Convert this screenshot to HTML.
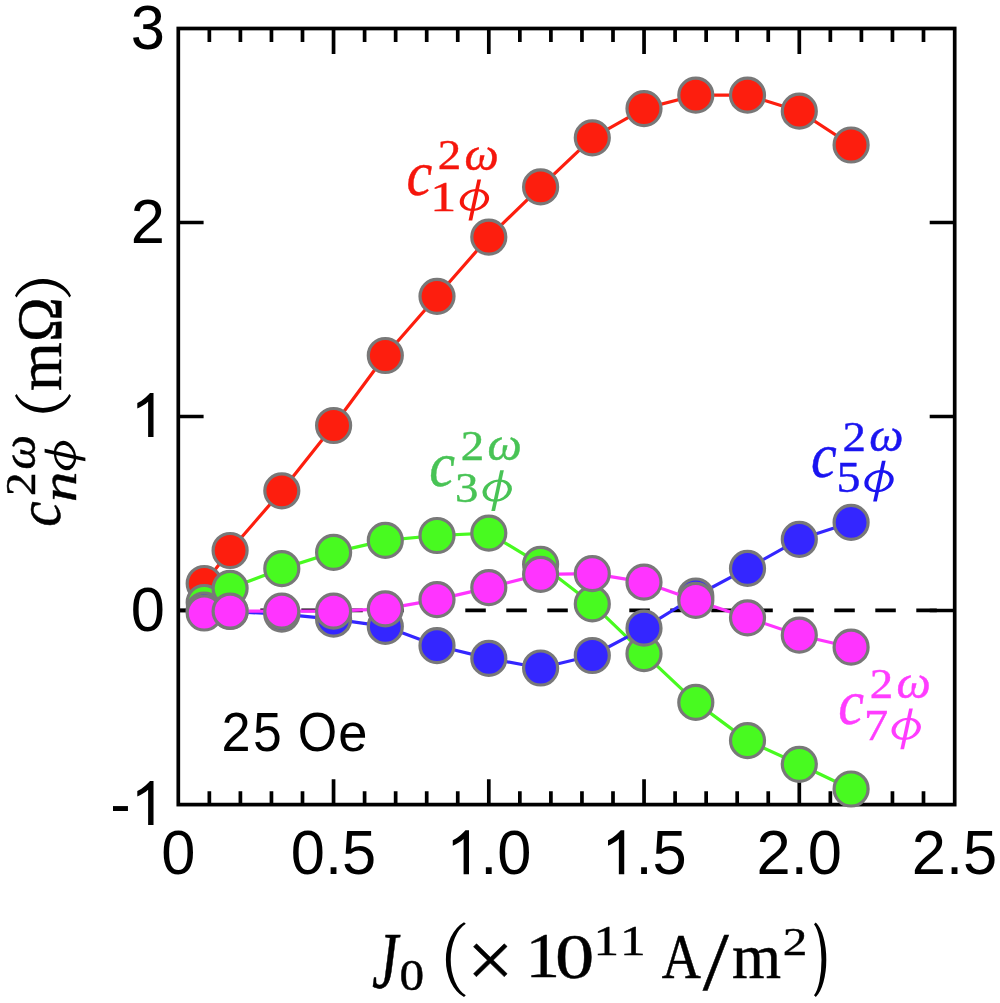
<!DOCTYPE html>
<html><head><meta charset="utf-8"><style>
html,body{margin:0;padding:0;background:#fff;overflow:hidden;}
svg{display:block;will-change:transform;}
</style></head><body>
<svg width="1000" height="1003" viewBox="0 0 1000 1003">
<rect width="1000" height="1003" fill="#fff"/>
<path d="M209.35 804.6V791.2M209.35 28.5V41.9M240.40 804.6V791.2M240.40 28.5V41.9M271.45 804.6V791.2M271.45 28.5V41.9M302.50 804.6V791.2M302.50 28.5V41.9M333.55 804.6V779.2M333.55 28.5V53.9M364.60 804.6V791.2M364.60 28.5V41.9M395.65 804.6V791.2M395.65 28.5V41.9M426.70 804.6V791.2M426.70 28.5V41.9M457.75 804.6V791.2M457.75 28.5V41.9M488.80 804.6V779.2M488.80 28.5V53.9M519.85 804.6V791.2M519.85 28.5V41.9M550.90 804.6V791.2M550.90 28.5V41.9M581.95 804.6V791.2M581.95 28.5V41.9M613.00 804.6V791.2M613.00 28.5V41.9M644.05 804.6V779.2M644.05 28.5V53.9M675.10 804.6V791.2M675.10 28.5V41.9M706.15 804.6V791.2M706.15 28.5V41.9M737.20 804.6V791.2M737.20 28.5V41.9M768.25 804.6V791.2M768.25 28.5V41.9M799.30 804.6V779.2M799.30 28.5V53.9M830.35 804.6V791.2M830.35 28.5V41.9M861.40 804.6V791.2M861.40 28.5V41.9M892.45 804.6V791.2M892.45 28.5V41.9M923.50 804.6V791.2M923.50 28.5V41.9M178.3 222.50H203.60000000000002M954.7 222.50H929.7M178.3 416.50H203.60000000000002M954.7 416.50H929.7M178.3 610.50H203.60000000000002M954.7 610.50H929.7" stroke="#000" stroke-width="3.7" fill="none"/>
<rect x="178.3" y="28.5" width="776.4000000000001" height="776.1" fill="none" stroke="#000" stroke-width="3.7"/>
<line x1="178.3" y1="610.4" x2="955" y2="610.4" stroke="#000" stroke-width="3.6" stroke-dasharray="20.5 20.5"/>
<polyline points="204.2,583.5 230.1,550.5 281.8,490.8 333.6,425.5 385.3,355.5 437.0,296.3 488.8,237.1 540.6,186.9 592.3,137.8 644.0,108.6 695.8,95.2 747.5,95.2 799.3,111.2 851.1,145.0" fill="none" stroke="#FD1E0E" stroke-width="3.2" stroke-linejoin="round"/>
<circle cx="204.2" cy="583.5" r="17.0" fill="#FD1E0E" stroke="#787878" stroke-width="3.2"/>
<circle cx="230.1" cy="550.5" r="17.0" fill="#FD1E0E" stroke="#787878" stroke-width="3.2"/>
<circle cx="281.8" cy="490.8" r="17.0" fill="#FD1E0E" stroke="#787878" stroke-width="3.2"/>
<circle cx="333.6" cy="425.5" r="17.0" fill="#FD1E0E" stroke="#787878" stroke-width="3.2"/>
<circle cx="385.3" cy="355.5" r="17.0" fill="#FD1E0E" stroke="#787878" stroke-width="3.2"/>
<circle cx="437.0" cy="296.3" r="17.0" fill="#FD1E0E" stroke="#787878" stroke-width="3.2"/>
<circle cx="488.8" cy="237.1" r="17.0" fill="#FD1E0E" stroke="#787878" stroke-width="3.2"/>
<circle cx="540.6" cy="186.9" r="17.0" fill="#FD1E0E" stroke="#787878" stroke-width="3.2"/>
<circle cx="592.3" cy="137.8" r="17.0" fill="#FD1E0E" stroke="#787878" stroke-width="3.2"/>
<circle cx="644.0" cy="108.6" r="17.0" fill="#FD1E0E" stroke="#787878" stroke-width="3.2"/>
<circle cx="695.8" cy="95.2" r="17.0" fill="#FD1E0E" stroke="#787878" stroke-width="3.2"/>
<circle cx="747.5" cy="95.2" r="17.0" fill="#FD1E0E" stroke="#787878" stroke-width="3.2"/>
<circle cx="799.3" cy="111.2" r="17.0" fill="#FD1E0E" stroke="#787878" stroke-width="3.2"/>
<circle cx="851.1" cy="145.0" r="17.0" fill="#FD1E0E" stroke="#787878" stroke-width="3.2"/>
<polyline points="204.2,602.5 230.1,588.3 281.8,568.7 333.6,552.4 385.3,540.4 437.0,535.5 488.8,533.1 540.6,564.3 592.3,603.9 644.0,653.7 695.8,702.4 747.5,740.6 799.3,764.3 851.1,789.0" fill="none" stroke="#48FA20" stroke-width="3.2" stroke-linejoin="round"/>
<circle cx="204.2" cy="602.5" r="17.0" fill="#48FA20" stroke="#787878" stroke-width="3.2"/>
<circle cx="230.1" cy="588.3" r="17.0" fill="#48FA20" stroke="#787878" stroke-width="3.2"/>
<circle cx="281.8" cy="568.7" r="17.0" fill="#48FA20" stroke="#787878" stroke-width="3.2"/>
<circle cx="333.6" cy="552.4" r="17.0" fill="#48FA20" stroke="#787878" stroke-width="3.2"/>
<circle cx="385.3" cy="540.4" r="17.0" fill="#48FA20" stroke="#787878" stroke-width="3.2"/>
<circle cx="437.0" cy="535.5" r="17.0" fill="#48FA20" stroke="#787878" stroke-width="3.2"/>
<circle cx="488.8" cy="533.1" r="17.0" fill="#48FA20" stroke="#787878" stroke-width="3.2"/>
<circle cx="540.6" cy="564.3" r="17.0" fill="#48FA20" stroke="#787878" stroke-width="3.2"/>
<circle cx="592.3" cy="603.9" r="17.0" fill="#48FA20" stroke="#787878" stroke-width="3.2"/>
<circle cx="644.0" cy="653.7" r="17.0" fill="#48FA20" stroke="#787878" stroke-width="3.2"/>
<circle cx="695.8" cy="702.4" r="17.0" fill="#48FA20" stroke="#787878" stroke-width="3.2"/>
<circle cx="747.5" cy="740.6" r="17.0" fill="#48FA20" stroke="#787878" stroke-width="3.2"/>
<circle cx="799.3" cy="764.3" r="17.0" fill="#48FA20" stroke="#787878" stroke-width="3.2"/>
<circle cx="851.1" cy="789.0" r="17.0" fill="#48FA20" stroke="#787878" stroke-width="3.2"/>
<polyline points="204.2,610.0 230.1,611.5 281.8,614.1 333.6,619.2 385.3,626.4 437.0,645.7 488.8,658.4 540.6,668.0 592.3,655.5 644.0,628.2 695.8,596.0 747.5,568.4 799.3,539.3 851.1,522.4" fill="none" stroke="#3426FF" stroke-width="3.2" stroke-linejoin="round"/>
<circle cx="204.2" cy="610.0" r="17.0" fill="#3426FF" stroke="#787878" stroke-width="3.2"/>
<circle cx="230.1" cy="611.5" r="17.0" fill="#3426FF" stroke="#787878" stroke-width="3.2"/>
<circle cx="281.8" cy="614.1" r="17.0" fill="#3426FF" stroke="#787878" stroke-width="3.2"/>
<circle cx="333.6" cy="619.2" r="17.0" fill="#3426FF" stroke="#787878" stroke-width="3.2"/>
<circle cx="385.3" cy="626.4" r="17.0" fill="#3426FF" stroke="#787878" stroke-width="3.2"/>
<circle cx="437.0" cy="645.7" r="17.0" fill="#3426FF" stroke="#787878" stroke-width="3.2"/>
<circle cx="488.8" cy="658.4" r="17.0" fill="#3426FF" stroke="#787878" stroke-width="3.2"/>
<circle cx="540.6" cy="668.0" r="17.0" fill="#3426FF" stroke="#787878" stroke-width="3.2"/>
<circle cx="592.3" cy="655.5" r="17.0" fill="#3426FF" stroke="#787878" stroke-width="3.2"/>
<circle cx="644.0" cy="628.2" r="17.0" fill="#3426FF" stroke="#787878" stroke-width="3.2"/>
<circle cx="695.8" cy="596.0" r="17.0" fill="#3426FF" stroke="#787878" stroke-width="3.2"/>
<circle cx="747.5" cy="568.4" r="17.0" fill="#3426FF" stroke="#787878" stroke-width="3.2"/>
<circle cx="799.3" cy="539.3" r="17.0" fill="#3426FF" stroke="#787878" stroke-width="3.2"/>
<circle cx="851.1" cy="522.4" r="17.0" fill="#3426FF" stroke="#787878" stroke-width="3.2"/>
<polyline points="204.2,613.0 230.1,611.2 281.8,611.2 333.6,611.2 385.3,608.8 437.0,599.6 488.8,587.6 540.6,574.4 592.3,573.7 644.0,582.2 695.8,600.4 747.5,617.8 799.3,635.2 851.1,647.2" fill="none" stroke="#FF34FF" stroke-width="3.2" stroke-linejoin="round"/>
<circle cx="204.2" cy="613.0" r="17.0" fill="#FF34FF" stroke="#787878" stroke-width="3.2"/>
<circle cx="230.1" cy="611.2" r="17.0" fill="#FF34FF" stroke="#787878" stroke-width="3.2"/>
<circle cx="281.8" cy="611.2" r="17.0" fill="#FF34FF" stroke="#787878" stroke-width="3.2"/>
<circle cx="333.6" cy="611.2" r="17.0" fill="#FF34FF" stroke="#787878" stroke-width="3.2"/>
<circle cx="385.3" cy="608.8" r="17.0" fill="#FF34FF" stroke="#787878" stroke-width="3.2"/>
<circle cx="437.0" cy="599.6" r="17.0" fill="#FF34FF" stroke="#787878" stroke-width="3.2"/>
<circle cx="488.8" cy="587.6" r="17.0" fill="#FF34FF" stroke="#787878" stroke-width="3.2"/>
<circle cx="540.6" cy="574.4" r="17.0" fill="#FF34FF" stroke="#787878" stroke-width="3.2"/>
<circle cx="592.3" cy="573.7" r="17.0" fill="#FF34FF" stroke="#787878" stroke-width="3.2"/>
<circle cx="644.0" cy="582.2" r="17.0" fill="#FF34FF" stroke="#787878" stroke-width="3.2"/>
<circle cx="695.8" cy="600.4" r="17.0" fill="#FF34FF" stroke="#787878" stroke-width="3.2"/>
<circle cx="747.5" cy="617.8" r="17.0" fill="#FF34FF" stroke="#787878" stroke-width="3.2"/>
<circle cx="799.3" cy="635.2" r="17.0" fill="#FF34FF" stroke="#787878" stroke-width="3.2"/>
<circle cx="851.1" cy="647.2" r="17.0" fill="#FF34FF" stroke="#787878" stroke-width="3.2"/>
<text transform="translate(130.64,49.00) scale(0.975,1)" style="font-family:'Liberation Sans',sans-serif" font-size="63">3</text>
<text transform="translate(130.64,243.00) scale(0.975,1)" style="font-family:'Liberation Sans',sans-serif" font-size="63">2</text>
<path transform="translate(130.64,437.00) scale(0.02999,-0.03076)" d="M763 0L583 0L583 1147Q518 1085 412 1023Q306 961 222 930L222 1104Q373 1175 486 1276Q599 1377 646 1430L763 1430Z"/>
<text transform="translate(130.64,631.00) scale(0.975,1)" style="font-family:'Liberation Sans',sans-serif" font-size="63">0</text>
<text transform="translate(110.18,825.00) scale(0.975,1)" style="font-family:'Liberation Sans',sans-serif" font-size="63">-</text><path transform="translate(130.64,825.00) scale(0.02999,-0.03076)" d="M763 0L583 0L583 1147Q518 1085 412 1023Q306 961 222 930L222 1104Q373 1175 486 1276Q599 1377 646 1430L763 1430Z"/>
<text transform="translate(161.22,874.30) scale(0.975,1)" style="font-family:'Liberation Sans',sans-serif" font-size="63">0</text>
<text transform="translate(290.86,874.30) scale(0.975,1)" style="font-family:'Liberation Sans',sans-serif" font-size="63">0</text><text transform="translate(325.02,874.30) scale(0.975,1)" style="font-family:'Liberation Sans',sans-serif" font-size="63">.</text><text transform="translate(342.08,874.30) scale(0.975,1)" style="font-family:'Liberation Sans',sans-serif" font-size="63">5</text>
<path transform="translate(446.11,874.30) scale(0.02999,-0.03076)" d="M763 0L583 0L583 1147Q518 1085 412 1023Q306 961 222 930L222 1104Q373 1175 486 1276Q599 1377 646 1430L763 1430Z"/><text transform="translate(480.27,874.30) scale(0.975,1)" style="font-family:'Liberation Sans',sans-serif" font-size="63">.</text><text transform="translate(497.33,874.30) scale(0.975,1)" style="font-family:'Liberation Sans',sans-serif" font-size="63">0</text>
<path transform="translate(601.36,874.30) scale(0.02999,-0.03076)" d="M763 0L583 0L583 1147Q518 1085 412 1023Q306 961 222 930L222 1104Q373 1175 486 1276Q599 1377 646 1430L763 1430Z"/><text transform="translate(635.52,874.30) scale(0.975,1)" style="font-family:'Liberation Sans',sans-serif" font-size="63">.</text><text transform="translate(652.58,874.30) scale(0.975,1)" style="font-family:'Liberation Sans',sans-serif" font-size="63">5</text>
<text transform="translate(756.61,874.30) scale(0.975,1)" style="font-family:'Liberation Sans',sans-serif" font-size="63">2</text><text transform="translate(790.77,874.30) scale(0.975,1)" style="font-family:'Liberation Sans',sans-serif" font-size="63">.</text><text transform="translate(807.83,874.30) scale(0.975,1)" style="font-family:'Liberation Sans',sans-serif" font-size="63">0</text>
<text transform="translate(911.86,874.30) scale(0.975,1)" style="font-family:'Liberation Sans',sans-serif" font-size="63">2</text><text transform="translate(946.02,874.30) scale(0.975,1)" style="font-family:'Liberation Sans',sans-serif" font-size="63">.</text><text transform="translate(963.08,874.30) scale(0.975,1)" style="font-family:'Liberation Sans',sans-serif" font-size="63">5</text>
<text transform="translate(221.47,751.10) scale(0.5224,0.5628)" style="font-family:'Liberation Sans',sans-serif;font-style:normal" font-size="100" fill="#000">2</text>
<text transform="translate(253.03,750.85) scale(0.5167,0.5618)" style="font-family:'Liberation Sans',sans-serif;font-style:normal" font-size="100" fill="#000">5</text>
<text transform="translate(297.70,751.15) scale(0.5069,0.5636)" style="font-family:'Liberation Sans',sans-serif;font-style:normal" font-size="100" fill="#000">O</text>
<text transform="translate(338.17,751.17) scale(0.5243,0.5403)" style="font-family:'Liberation Sans',sans-serif;font-style:normal" font-size="100" fill="#000">e</text>
<text transform="translate(406.42,195.49) scale(0.5791,0.6258)" style="font-family:'Liberation Serif',serif;font-style:italic" font-size="100" fill="#F5160C" stroke="#F5160C" stroke-width="0.747">c</text><text transform="translate(437.84,169.40) scale(0.4690,0.4259)" style="font-family:'Liberation Serif',serif;font-style:normal" font-size="100" fill="#F5160C" stroke="#F5160C" stroke-width="1.006">2</text><text transform="translate(464.59,169.64) scale(0.4850,0.4681)" style="font-family:'Liberation Serif',serif;font-style:italic" font-size="100" fill="#F5160C" stroke="#F5160C" stroke-width="0.944">ω</text><text transform="translate(430.33,211.00) scale(0.5198,0.4317)" style="font-family:'Liberation Serif',serif;font-style:normal" font-size="100" fill="#F5160C" stroke="#F5160C" stroke-width="0.946">1</text><g transform="translate(474.40,200.00) rotate(0)" fill="#F5160C"><path fill-rule="evenodd" d="M-14.5 0a14.5 11.1 0 1 0 29 0a14.5 11.1 0 1 0 -29 0ZM-10.4 0a10.4 9.0 0 1 0 20.8 0a10.4 9.0 0 1 0 -20.8 0Z" transform="skewX(-12)"/><path d="M2.95 -20.4L6.65 -20.4L-2.15 20.4L-5.85 20.4Z"/></g>
<text transform="translate(429.22,486.09) scale(0.5791,0.6258)" style="font-family:'Liberation Serif',serif;font-style:italic" font-size="100" fill="#48C355" stroke="#48C355" stroke-width="0.747">c</text><text transform="translate(460.64,460.00) scale(0.4690,0.4259)" style="font-family:'Liberation Serif',serif;font-style:normal" font-size="100" fill="#48C355" stroke="#48C355" stroke-width="1.006">2</text><text transform="translate(487.39,460.24) scale(0.4850,0.4681)" style="font-family:'Liberation Serif',serif;font-style:italic" font-size="100" fill="#48C355" stroke="#48C355" stroke-width="0.944">ω</text><text transform="translate(455.06,501.68) scale(0.4672,0.4272)" style="font-family:'Liberation Serif',serif;font-style:normal" font-size="100" fill="#48C355" stroke="#48C355" stroke-width="1.006">3</text><g transform="translate(497.20,490.60) rotate(0)" fill="#48C355"><path fill-rule="evenodd" d="M-14.5 0a14.5 11.1 0 1 0 29 0a14.5 11.1 0 1 0 -29 0ZM-10.4 0a10.4 9.0 0 1 0 20.8 0a10.4 9.0 0 1 0 -20.8 0Z" transform="skewX(-12)"/><path d="M2.95 -20.4L6.65 -20.4L-2.15 20.4L-5.85 20.4Z"/></g>
<text transform="translate(811.02,476.69) scale(0.5791,0.6258)" style="font-family:'Liberation Serif',serif;font-style:italic" font-size="100" fill="#1A14F0" stroke="#1A14F0" stroke-width="0.747">c</text><text transform="translate(842.44,450.60) scale(0.4690,0.4259)" style="font-family:'Liberation Serif',serif;font-style:normal" font-size="100" fill="#1A14F0" stroke="#1A14F0" stroke-width="1.006">2</text><text transform="translate(869.19,450.84) scale(0.4850,0.4681)" style="font-family:'Liberation Serif',serif;font-style:italic" font-size="100" fill="#1A14F0" stroke="#1A14F0" stroke-width="0.944">ω</text><text transform="translate(836.52,491.66) scale(0.4791,0.4484)" style="font-family:'Liberation Serif',serif;font-style:normal" font-size="100" fill="#1A14F0" stroke="#1A14F0" stroke-width="0.970">5</text><g transform="translate(879.00,481.20) rotate(0)" fill="#1A14F0"><path fill-rule="evenodd" d="M-14.5 0a14.5 11.1 0 1 0 29 0a14.5 11.1 0 1 0 -29 0ZM-10.4 0a10.4 9.0 0 1 0 20.8 0a10.4 9.0 0 1 0 -20.8 0Z" transform="skewX(-12)"/><path d="M2.95 -20.4L6.65 -20.4L-2.15 20.4L-5.85 20.4Z"/></g>
<text transform="translate(838.22,724.29) scale(0.5791,0.6258)" style="font-family:'Liberation Serif',serif;font-style:italic" font-size="100" fill="#FF3CFF" stroke="#FF3CFF" stroke-width="0.747">c</text><text transform="translate(869.64,698.20) scale(0.4690,0.4259)" style="font-family:'Liberation Serif',serif;font-style:normal" font-size="100" fill="#FF3CFF" stroke="#FF3CFF" stroke-width="1.006">2</text><text transform="translate(896.39,698.44) scale(0.4850,0.4681)" style="font-family:'Liberation Serif',serif;font-style:italic" font-size="100" fill="#FF3CFF" stroke="#FF3CFF" stroke-width="0.944">ω</text><text transform="translate(864.11,740.20) scale(0.4836,0.4429)" style="font-family:'Liberation Serif',serif;font-style:normal" font-size="100" fill="#FF3CFF" stroke="#FF3CFF" stroke-width="0.971">7</text><g transform="translate(906.20,728.80) rotate(0)" fill="#FF3CFF"><path fill-rule="evenodd" d="M-14.5 0a14.5 11.1 0 1 0 29 0a14.5 11.1 0 1 0 -29 0ZM-10.4 0a10.4 9.0 0 1 0 20.8 0a10.4 9.0 0 1 0 -20.8 0Z" transform="skewX(-12)"/><path d="M2.95 -20.4L6.65 -20.4L-2.15 20.4L-5.85 20.4Z"/></g>
<g transform="rotate(-90)"><text transform="translate(-526.76,60.41) scale(0.5717,0.6030)" style="font-family:'Liberation Serif',serif;font-style:italic" font-size="100" fill="#000" stroke="#000" stroke-width="0.766">c</text><text transform="translate(-496.08,35.00) scale(0.4740,0.4153)" style="font-family:'Liberation Serif',serif;font-style:normal" font-size="100" fill="#000" stroke="#000" stroke-width="1.012">2</text><text transform="translate(-469.64,34.54) scale(0.4929,0.4702)" style="font-family:'Liberation Serif',serif;font-style:italic" font-size="100" fill="#000" stroke="#000" stroke-width="0.934">ω</text><text transform="translate(-502.19,76.00) scale(0.6149,0.4987)" style="font-family:'Liberation Serif',serif;font-style:italic" font-size="100" fill="#000" stroke="#000" stroke-width="0.808">n</text><g transform="translate(-455.50,65.00) rotate(0)" fill="#000"><path fill-rule="evenodd" d="M-14.5 0a14.5 11.1 0 1 0 29 0a14.5 11.1 0 1 0 -29 0ZM-10.4 0a10.4 9.0 0 1 0 20.8 0a10.4 9.0 0 1 0 -20.8 0Z" transform="skewX(-12)"/><path d="M2.95 -20.4L6.65 -20.4L-2.15 20.4L-5.85 20.4Z"/></g><path d="M-295.70 15.00A26.72 30.20 0 0 1 -295.70 71.00L-297.50 69.33A21.92 28.40 0 0 0 -297.50 16.67Z" fill="#000"/><text transform="translate(-342.11,60.50) scale(0.6003,0.6313)" style="font-family:'Liberation Serif',serif;font-style:normal" font-size="100" fill="#000" stroke="#000" stroke-width="0.731">Ω</text><text transform="translate(-390.91,60.50) scale(0.6260,0.6346)" style="font-family:'Liberation Serif',serif;font-style:normal" font-size="100" fill="#000" stroke="#000" stroke-width="0.714">m</text><path d="M-395.70 15.00A27.20 30.20 0 0 0 -395.70 71.00L-393.90 69.33A22.40 28.40 0 0 1 -393.90 16.67Z" fill="#000"/></g>
<text transform="translate(372.01,988.12) scale(0.5879,0.7975)" style="font-family:'Liberation Serif',serif;font-style:italic" font-size="100" fill="#000" stroke="#000" stroke-width="0.650">J</text><text transform="translate(399.42,990.47) scale(0.4931,0.4401)" style="font-family:'Liberation Serif',serif;font-style:normal" font-size="100" fill="#000" stroke="#000" stroke-width="0.964">0</text><path d="M464.00 922.20A28.96 40.34 0 0 0 464.00 997.00L465.80 995.33A24.16 38.54 0 0 1 465.80 923.87Z" fill="#000"/><text transform="translate(467.07,986.68) scale(0.8261,0.8128)" style="font-family:'Liberation Serif',serif;font-style:normal" font-size="100" fill="#000" stroke="#000" stroke-width="0.549">×</text><text transform="translate(525.43,977.30) scale(0.6902,0.6271)" style="font-family:'Liberation Serif',serif;font-style:normal" font-size="100" fill="#000" stroke="#000" stroke-width="0.683">1</text><text transform="translate(555.11,978.07) scale(0.7857,0.6402)" style="font-family:'Liberation Serif',serif;font-style:normal" font-size="100" fill="#000" stroke="#000" stroke-width="0.631">0</text><text transform="translate(593.51,954.90) scale(0.5113,0.4257)" style="font-family:'Liberation Serif',serif;font-style:normal" font-size="100" fill="#000" stroke="#000" stroke-width="0.961">1</text><text transform="translate(620.08,954.90) scale(0.5141,0.4257)" style="font-family:'Liberation Serif',serif;font-style:normal" font-size="100" fill="#000" stroke="#000" stroke-width="0.958">1</text><text transform="translate(661.67,977.60) scale(0.5418,0.6271)" style="font-family:'Liberation Serif',serif;font-style:normal" font-size="100" fill="#000" stroke="#000" stroke-width="0.770">A</text><text transform="translate(702.70,988.89) scale(0.9394,0.8341)" style="font-family:'Liberation Serif',serif;font-style:normal" font-size="100" fill="#000" stroke="#000" stroke-width="0.507">/</text><text transform="translate(731.97,977.60) scale(0.6314,0.6409)" style="font-family:'Liberation Serif',serif;font-style:normal" font-size="100" fill="#000" stroke="#000" stroke-width="0.707">m</text><text transform="translate(782.84,955.00) scale(0.4914,0.4002)" style="font-family:'Liberation Serif',serif;font-style:normal" font-size="100" fill="#000" stroke="#000" stroke-width="1.009">2</text><path d="M815.80 922.60A16.80 40.07 0 0 1 815.80 996.90L814.00 995.23A12.00 38.27 0 0 0 814.00 924.27Z" fill="#000"/>
</svg>
</body></html>
